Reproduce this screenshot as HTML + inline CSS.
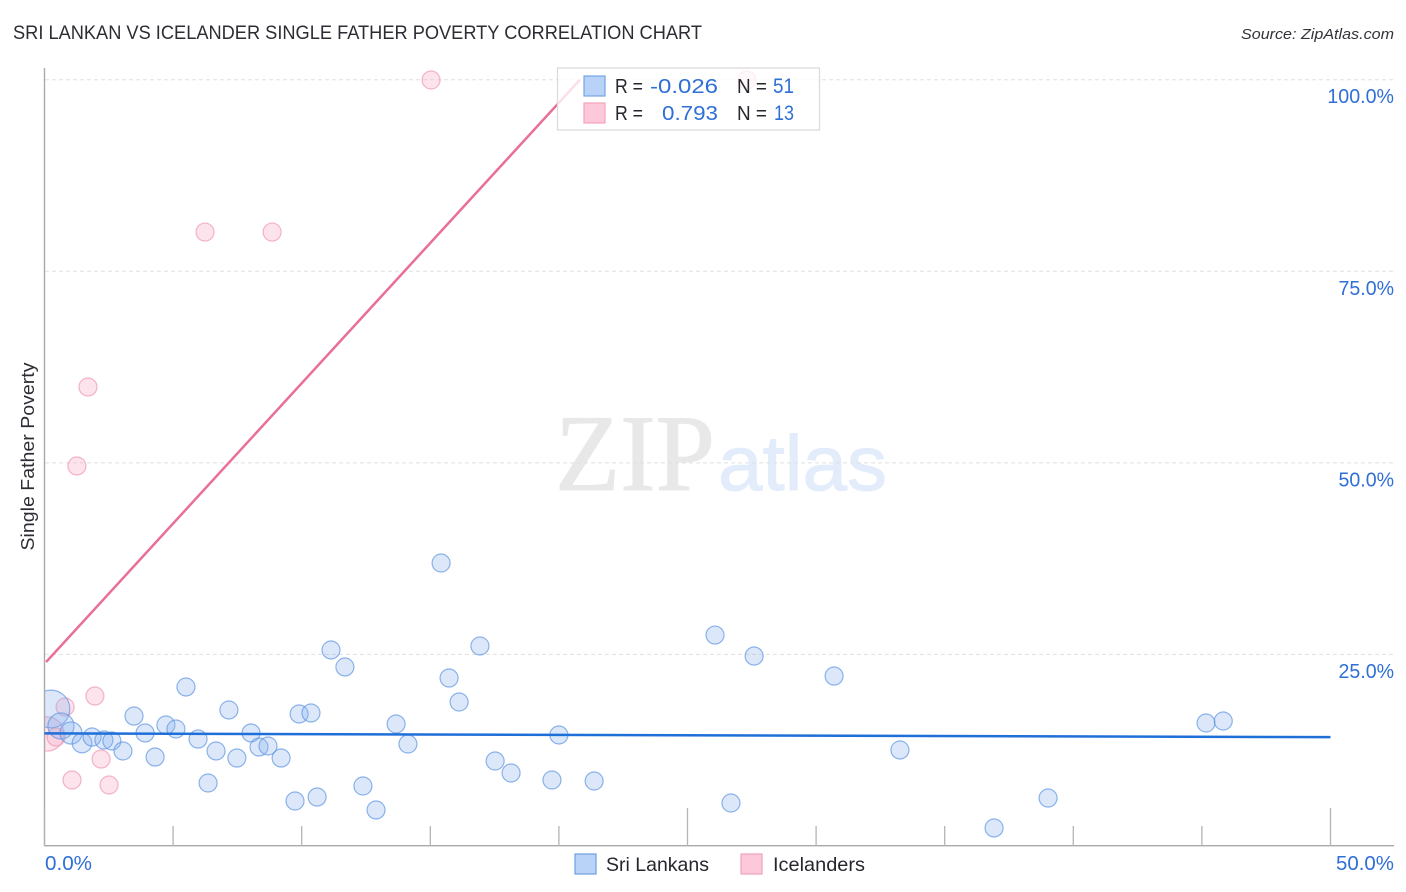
<!DOCTYPE html>
<html lang="en">
<head>
<meta charset="utf-8">
<title>Sri Lankan vs Icelander Single Father Poverty Correlation Chart</title>
<style>
html,body{margin:0;padding:0;background:#fff;width:1406px;height:892px;overflow:hidden}
svg{display:block;font-family:"Liberation Sans",sans-serif}
</style>
</head>
<body>
<svg id="chart" width="1406" height="892" viewBox="0 0 1406 892" xmlns="http://www.w3.org/2000/svg">
  <defs><clipPath id="plot-clip"><rect x="45" y="60" width="1349" height="786"/></clipPath></defs>
  <text x="13" y="39" font-size="19" fill="#2c2c34" textLength="689" lengthAdjust="spacingAndGlyphs">SRI LANKAN VS ICELANDER SINGLE FATHER POVERTY CORRELATION CHART</text>
  <text x="1241" y="39" font-size="15" font-style="italic" fill="#33333a" textLength="153" lengthAdjust="spacingAndGlyphs">Source: ZipAtlas.com</text>

  <g>
    <text x="555" y="490" font-family="'Liberation Serif',serif" font-size="109" fill="#e8e8e8" stroke="#e8e8e8" stroke-width="1" textLength="160" lengthAdjust="spacingAndGlyphs">ZIP</text>
    <text x="718" y="490" font-size="78" fill="#e3ecfa" stroke="#e3ecfa" stroke-width="1" textLength="169" lengthAdjust="spacingAndGlyphs">atlas</text>
  </g>

  <g id="grid"></g>
  <g id="axes"></g>
  <g id="marks" clip-path="url(#plot-clip)"></g>
  <g id="trends"></g>
  <g id="labels"></g>

  <text transform="translate(34,456.5) rotate(-90)" text-anchor="middle" font-size="18.5" fill="#2c2c34" textLength="188" lengthAdjust="spacingAndGlyphs">Single Father Poverty</text>

  <g>
    <rect x="557.5" y="68" width="262" height="62" fill="#fff" fill-opacity="0.78" stroke="#dcdcdc" stroke-width="1.3"/>
    <rect x="584" y="76" width="21" height="20" fill="#b9d3f8" stroke="#75a5e4" stroke-width="1.2"/>
    <rect x="584" y="103" width="21" height="20" fill="#fdc8da" stroke="#f4a4bd" stroke-width="1.2"/>
    <g font-size="20">
      <text x="615" y="93" fill="#26262e" textLength="28" lengthAdjust="spacingAndGlyphs">R =</text>
      <text x="718" y="93" text-anchor="end" fill="#2f6fd6" textLength="68" lengthAdjust="spacingAndGlyphs">-0.026</text>
      <text x="737" y="93" fill="#26262e" textLength="30" lengthAdjust="spacingAndGlyphs">N =</text>
      <text x="773" y="93" font-size="21" fill="#2f6fd6" textLength="21" lengthAdjust="spacingAndGlyphs">51</text>
      <text x="615" y="120" fill="#26262e" textLength="28" lengthAdjust="spacingAndGlyphs">R =</text>
      <text x="718" y="120" text-anchor="end" fill="#2f6fd6" textLength="56" lengthAdjust="spacingAndGlyphs">0.793</text>
      <text x="737" y="120" fill="#26262e" textLength="30" lengthAdjust="spacingAndGlyphs">N =</text>
      <text x="774" y="120" font-size="21" fill="#2f6fd6" textLength="20" lengthAdjust="spacingAndGlyphs">13</text>
    </g>
  </g>

  <g>
    <g>
      <rect x="575" y="854" width="21" height="20" fill="#b9d3f8" stroke="#6f9fe0" stroke-width="1.2"/>
      <text x="606" y="871" font-size="19.5" fill="#26262e" textLength="103" lengthAdjust="spacingAndGlyphs">Sri Lankans</text>
    </g>
    <g>
      <rect x="741" y="854" width="21" height="20" fill="#fdc8da" stroke="#f0a3bb" stroke-width="1.2"/>
      <text x="773" y="871" font-size="19.5" fill="#26262e" textLength="92" lengthAdjust="spacingAndGlyphs">Icelanders</text>
    </g>
  </g>
</svg>
<script>
const sriLankanX = [0.25,0.64,1.03,1.46,1.85,2.31,2.62,3.05,3.48,3.91,4.30,4.72,5.11,5.50,5.97,6.67,6.36,7.17,7.48,8.03,8.34,8.69,9.20,9.74,9.90,10.36,10.60,11.14,11.68,12.38,12.89,13.67,14.13,15.42,15.73,16.12,16.93,17.52,18.14,19.73,20.00,21.37,26.07,26.69,27.59,30.70,33.26,36.92,39.02,45.16,45.83];
const sriLankanY = [17.88,15.66,14.75,13.44,14.22,13.83,13.70,12.40,16.96,14.75,11.61,15.79,15.27,20.75,13.96,12.40,8.22,17.75,11.48,14.75,12.92,13.05,11.48,5.87,17.23,17.36,6.39,25.58,23.36,7.83,4.70,15.92,13.31,36.93,21.92,18.79,26.10,11.09,9.53,8.61,14.49,8.48,27.53,5.61,24.79,22.18,12.53,2.35,6.26,16.05,16.31];
const sriLankanWeight = [4.4,2.1,1.5,1.2,1,1,1,1,1,1,1,1,1,1,1,1,1,1,1,1,1,1,1,1,1,1,1,1,1,1,1,1,1,1,1,1,1,1,1,1,1,1,1,1,1,1,1,1,1,1,1];
const icelanderX = [0.10,0.45,0.80,1.07,1.26,1.69,1.96,2.20,2.51,6.24,8.85,15.03,27.31];
const icelanderY = [14.62,14.22,18.14,8.61,49.59,59.90,19.57,11.35,7.96,80.12,80.12,99.96,99.96];
const icelanderWeight = [3.6,1,1,1,1,1,1,1,1,1,1,1,1];
const sriLankanTrendX = [0,50];
const sriLankanTrendY = [14.7,14.2];
const icelanderTrendX = [0.06,20.82];
const icelanderTrendY = [24.0,100];
const yTickValues = [25,50,75,100];
const yTickLabels = ["25.0%","50.0%","75.0%","100.0%"];
const xTickValues = [0,5,10,15,20,25,30,35,40,45,50];
const xMajorTicks = [0,25,50];
const xEndLabels = ["0.0%","50.0%"];

const NS = "http://www.w3.org/2000/svg";
const scaleX = v => 44.5 + v * 25.72;
const scaleY = v => 846 - v * 7.663;
function mk(tag, parent, attrs){
  const el = document.createElementNS(NS, tag);
  for (const k in attrs) el.setAttribute(k, attrs[k]);
  parent.appendChild(el);
  return el;
}
const grid = document.getElementById("grid");
const axes = document.getElementById("axes");
const marks = document.getElementById("marks");
const trends = document.getElementById("trends");
const labels = document.getElementById("labels");

yTickValues.forEach((v, i) => {
  const line = mk("line", grid, {x1:45, x2:1394, y1:scaleY(v), y2:scaleY(v), stroke:"#e0e0e0", "stroke-width":1, "stroke-dasharray":"4 3"});
  
  
  const t = mk("text", labels, {x:1394, y:scaleY(v) + 23.5, "text-anchor":"end", "font-size":20, fill:"#2f6fd6", textLength: yTickLabels[i].length * 11.1, lengthAdjust:"spacingAndGlyphs"});
  t.textContent = yTickLabels[i];
  
  
});

const yAxis = mk("line", axes, {x1:44.5, x2:44.5, y1:68, y2:846, stroke:"#a9a9a9", "stroke-width":1.4});


const xAxis = mk("line", axes, {x1:44, x2:1394, y1:845.7, y2:845.7, stroke:"#a9a9a9", "stroke-width":1.4});


xTickValues.forEach(v => {
  const top = xMajorTicks.includes(v) ? 808 : 826;
  const tick = mk("line", axes, {x1:scaleX(v), x2:scaleX(v), y1:top, y2:846, stroke:"#b4b4b4", "stroke-width":1.3});
  
  
});

const xFirst = mk("text", labels, {x:45, y:870, "font-size":20, fill:"#2f6fd6", textLength:47, lengthAdjust:"spacingAndGlyphs"});
xFirst.textContent = xEndLabels[0];


const xLast = mk("text", labels, {x:1394, y:870, "text-anchor":"end", "font-size":20, fill:"#2f6fd6", textLength:58, lengthAdjust:"spacingAndGlyphs"});
xLast.textContent = xEndLabels[1];



icelanderX.forEach((v, i) => {
  const c = mk("circle", marks, {cx:scaleX(v), cy:scaleY(icelanderY[i]), r:9*Math.sqrt(icelanderWeight[i]), fill:"#f8a5c0", "fill-opacity":0.3, stroke:"#ee8fae", "stroke-opacity":0.65, "stroke-width":1.2});
  
  
});
sriLankanX.forEach((v, i) => {
  const c = mk("circle", marks, {cx:scaleX(v), cy:scaleY(sriLankanY[i]), r:9*Math.sqrt(sriLankanWeight[i]), fill:"#8ab4f0", "fill-opacity":0.3, stroke:"#5a92e0", "stroke-opacity":0.68, "stroke-width":1.2});
  
  
});

const blueTrend = mk("line", trends, {x1:scaleX(sriLankanTrendX[0]), y1:scaleY(sriLankanTrendY[0]), x2:scaleX(sriLankanTrendX[1]), y2:scaleY(sriLankanTrendY[1]), stroke:"#1f6fd8", "stroke-width":2.5});


const pinkTrend = mk("line", trends, {x1:scaleX(icelanderTrendX[0]), y1:scaleY(icelanderTrendY[0]), x2:scaleX(icelanderTrendX[1]), y2:scaleY(icelanderTrendY[1]), stroke:"#ea6f98", "stroke-width":2.5});


</script>
</body>
</html>
